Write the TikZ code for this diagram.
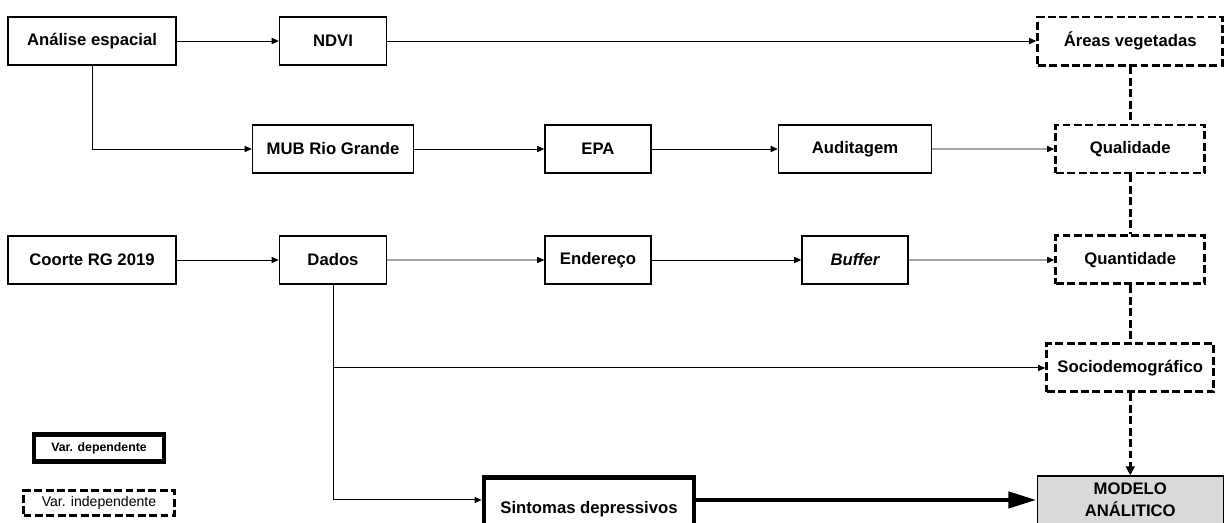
\documentclass[tikz,border=0pt]{standalone}
\usepackage{fontspec}
\setmainfont{Liberation Sans}
\usetikzlibrary{positioning, arrows.meta}

\begin{document}
\begin{tikzpicture}[
  node distance=1.2cm,
  box/.style={draw, line width=0.85pt, fill=white, align=center, font=\bfseries\fontsize{9.5}{11.5}\selectfont, minimum height=0.96cm, inner sep=2pt},
  indep/.style={box, line width=1.7pt, dash pattern=on 4.5pt off 2pt},
  dep/.style={box, line width=2.8pt},
  result/.style={box, fill=gray!30, font=\bfseries\fontsize{9.5}{12.5}\selectfont},
  legend/.style={draw, align=center, inner sep=1pt},
  arrow/.style={-{Triangle[length=4pt, width=3.5pt]}, line width=0.55pt},
  link/.style={line width=1.7pt, dash pattern=on 4.5pt off 2pt},
  bigarrow/.style={-{Triangle[length=16pt, width=9pt]}, line width=2.8pt},
]
\useasboundingbox (0,0) rectangle (24.54,-10.44);

% Spatial analysis row
\node[box, minimum width=3.36cm] (ana) at (1.84,-0.82) {Análise espacial};
\node[box, minimum width=2.14cm, right=2.04cm of ana] (ndvi) {NDVI};
\node[indep, minimum width=3.7cm, right=12.98cm of ndvi] (areas) {Áreas vegetadas};

% Audit row
\node[box, minimum width=3.22cm, below=1.17cm of ndvi] (mub) {MUB Rio Grande};
\node[box, minimum width=2.12cm, right=2.6cm of mub] (epa) {EPA};
\node[box, minimum width=3.06cm, right=2.52cm of epa] (aud) {Auditagem};
\node[indep, minimum width=2.98cm, below=1.14cm of areas] (qual) {Qualidade};

% Cohort row
\node[box, minimum width=3.36cm, below=3.39cm of ana] (coorte) {Coorte RG 2019};
\node[box, minimum width=2.14cm, right=2.04cm of coorte] (dados) {Dados};
\node[box, minimum width=2.12cm, below=1.23cm of epa] (ender) {Endereço};
\node[box, minimum width=2.12cm, below=1.23cm of aud] (buf) {\itshape Buffer};
\node[indep, minimum width=2.98cm, below=1.2cm of qual] (quant) {Quantidade};

% Outcome
\node[indep, minimum width=3.34cm, below=1.14cm of quant] (socio) {Sociodemográfico};
\node[result, minimum width=3.72cm, below=1.635cm of socio] (modelo) {MODELO\\ANÁLITICO};
\node[dep, minimum width=4.2cm, minimum height=1.26cm, left=6.8cm of modelo, yshift=-0.18cm] (sint) {Sintomas depressivos};

% Legend
\node[legend, line width=2.8pt, minimum width=2.6cm, minimum height=0.54cm, below=2.95cm of coorte, xshift=0.14cm, font=\bfseries\fontsize{7}{8}\selectfont] (ldep) {Var. dependente};
\node[legend, line width=1.7pt, dash pattern=on 4.5pt off 2pt, minimum width=3.02cm, minimum height=0.5cm, below=0.5cm of ldep, font=\fontsize{8}{9}\selectfont] (lind) {Var. independente};

% Connectors
\draw[arrow] (ana) -- (ndvi);
\draw[arrow] (ndvi) -- (areas);
\draw[arrow] (ana.south) |- (mub.west);
\draw[arrow] (mub) -- (epa);
\draw[arrow] (epa) -- (aud);
\draw[arrow] (aud) -- (qual);
\draw[arrow] (coorte) -- (dados);
\draw[arrow] (dados) -- (ender);
\draw[arrow] (ender) -- (buf);
\draw[arrow] (buf) -- (quant);
\draw[arrow] (dados.south) |- (sint.west |- modelo.west);
\draw[arrow] (dados.south |- socio.west) -- (socio.west);

\draw[link] (areas) -- (qual);
\draw[link] (qual) -- (quant);
\draw[link] (quant) -- (socio);
\draw[link, -{Triangle[length=5pt, width=5pt]}] (socio) -- (modelo);
\draw[bigarrow] (sint.east |- modelo.west) -- (modelo.west);

\end{tikzpicture}
\end{document}
